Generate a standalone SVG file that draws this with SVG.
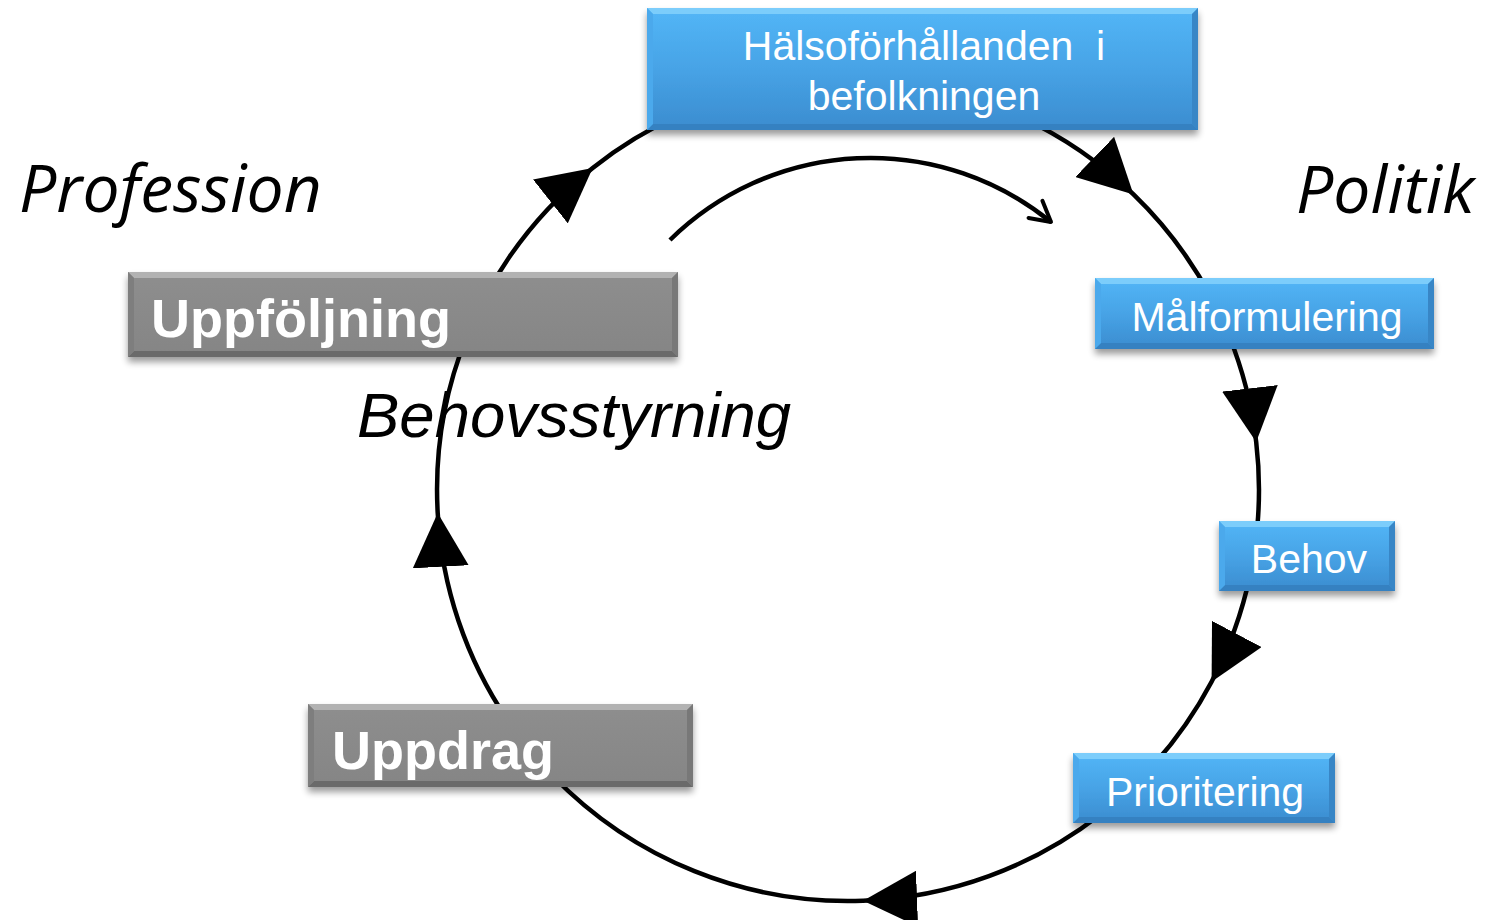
<svg xmlns="http://www.w3.org/2000/svg" width="1502" height="920" viewBox="0 0 1502 920">
  <defs>
    <linearGradient id="blueFill" x1="0" y1="0" x2="0" y2="1">
      <stop offset="0" stop-color="#53b6f7"/>
      <stop offset="0.5" stop-color="#47a3e6"/>
      <stop offset="1" stop-color="#3b8ccf"/>
    </linearGradient>
    <linearGradient id="grayFill" x1="0" y1="0" x2="0" y2="1">
      <stop offset="0" stop-color="#8e8e8e"/>
      <stop offset="1" stop-color="#858585"/>
    </linearGradient>
    <filter id="shadow" x="-10%" y="-20%" width="120%" height="150%">
      <feGaussianBlur in="SourceAlpha" stdDeviation="3.5"/>
      <feOffset dx="0" dy="5" result="off"/>
      <feComponentTransfer><feFuncA type="linear" slope="0.4"/></feComponentTransfer>
      <feMerge><feMergeNode/><feMergeNode in="SourceGraphic"/></feMerge>
    </filter>
    <marker id="tri" viewBox="0 0 54 56" refX="54" refY="28" markerWidth="54" markerHeight="56" markerUnits="userSpaceOnUse" orient="auto">
      <path d="M0,0 L54,28 L0,56 Z" fill="#000"/>
    </marker>
    <marker id="chevron" viewBox="-26 -15 30 30" refX="0" refY="0" markerWidth="30" markerHeight="30" markerUnits="userSpaceOnUse" orient="auto">
      <path d="M-20,-11 L0,0 L-20,11" fill="none" stroke="#000" stroke-width="4" stroke-linecap="round" stroke-linejoin="round"/>
    </marker>
  </defs>
  <style>
    .conn { fill: none; stroke: #000; stroke-width: 4.5; }
    .blue .base { fill: url(#blueFill); }
    .blue .bt { fill: #7ccdfb; }
    .blue .bb { fill: #3581c1; }
    .blue .bl { fill: #4ba9ec; }
    .blue .br { fill: #3886c6; }
    .gray .base { fill: url(#grayFill); }
    .gray .bt { fill: #b2b2b2; }
    .gray .bb { fill: #6a6a6a; }
    .gray .bl { fill: #7e7e7e; }
    .gray .br { fill: #787878; }
    .box { filter: url(#shadow); }
    .lbl { font-family: "Liberation Sans", Arial, sans-serif; fill: #fff; }
    .blue .lbl { font-size: 41px; text-anchor: middle; white-space: pre; }
    .gray .lbl { font-size: 54px; font-weight: bold; }
    .side { font-family: "Open Sans", "Noto Sans", sans-serif; font-style: italic; font-size: 66px; fill: #000; }
    .mid { font-family: "Liberation Sans", Arial, sans-serif; font-style: italic; font-size: 63.5px; fill: #000; }
  </style>

  <rect width="1502" height="920" fill="#fff"/>

  <!-- cycle connectors: arcs on a circle centred at (848,490), r=411, arrowhead at the middle vertex -->
  <g id="connectors">
    <path class="conn" marker-mid="url(#tri)" d="M1021.7,117.5 A411,411 0 0,1 1133.5,194.4 A411,411 0 0,1 1210.9,297"/>
    <path class="conn" marker-mid="url(#tri)" d="M1229.1,336 A411,411 0 0,1 1256.2,442 A411,411 0 0,1 1257.4,525.8"/>
    <path class="conn" marker-mid="url(#tri)" d="M1250,575.5 A411,411 0 0,1 1211.6,681.7 A411,411 0 0,1 1153.4,765"/>
    <path class="conn" marker-mid="url(#tri)" d="M1101,813.9 A411,411 0 0,1 863.1,900.7 A411,411 0 0,1 552.4,775.5"/>
    <path class="conn" marker-mid="url(#tri)" d="M507.3,719.8 A411,411 0 0,1 437.7,512.9 A411,411 0 0,1 466.9,336"/>
    <path class="conn" marker-mid="url(#tri)" d="M485.1,297 A411,411 0 0,1 592.7,167.9 A411,411 0 0,1 680.8,114.5"/>
    <!-- inner direction arc -->
    <path class="conn" stroke-width="4" marker-end="url(#chevron)" d="M670,240 A286,286 0 0,1 1051,222"/>
  </g>

  <!-- free labels -->
  <g id="labels">
    <text class="side" x="19" y="212">Profession</text>
    <text class="side" x="1296" y="213">Politik</text>
    <text class="mid" x="357" y="437">Behovsstyrning</text>
  </g>

  <g id="node-halsoforhallanden" class="blue">
    <g class="box">
      <rect class="base" x="647" y="8" width="551" height="122"/>
      <polygon class="bt" points="647,8 1198,8 1192,14 653,14"/>
      <polygon class="bb" points="647,130 1198,130 1192,124 653,124"/>
      <polygon class="bl" points="647,8 653,14 653,124 647,130"/>
      <polygon class="br" points="1198,8 1192,14 1192,124 1198,130"/>
    </g>
    <text class="lbl" x="924" y="60">Hälsoförhållanden  i</text>
    <text class="lbl" x="924" y="110">befolkningen</text>
  </g>

  <g id="node-malformulering" class="blue">
    <g class="box">
      <rect class="base" x="1095" y="278" width="339" height="71"/>
      <polygon class="bt" points="1095,278 1434,278 1428,284 1101,284"/>
      <polygon class="bb" points="1095,349 1434,349 1428,343 1101,343"/>
      <polygon class="bl" points="1095,278 1101,284 1101,343 1095,349"/>
      <polygon class="br" points="1434,278 1428,284 1428,343 1434,349"/>
    </g>
    <text class="lbl" x="1267" y="331">Målformulering</text>
  </g>

  <g id="node-behov" class="blue">
    <g class="box">
      <rect class="base" x="1219" y="521" width="176" height="70"/>
      <polygon class="bt" points="1219,521 1395,521 1389,527 1225,527"/>
      <polygon class="bb" points="1219,591 1395,591 1389,585 1225,585"/>
      <polygon class="bl" points="1219,521 1225,527 1225,585 1219,591"/>
      <polygon class="br" points="1395,521 1389,527 1389,585 1395,591"/>
    </g>
    <text class="lbl" x="1309" y="573">Behov</text>
  </g>

  <g id="node-prioritering" class="blue">
    <g class="box">
      <rect class="base" x="1073" y="753" width="262" height="70"/>
      <polygon class="bt" points="1073,753 1335,753 1329,759 1079,759"/>
      <polygon class="bb" points="1073,823 1335,823 1329,817 1079,817"/>
      <polygon class="bl" points="1073,753 1079,759 1079,817 1073,823"/>
      <polygon class="br" points="1335,753 1329,759 1329,817 1335,823"/>
    </g>
    <text class="lbl" x="1205" y="806">Prioritering</text>
  </g>

  <g id="node-uppdrag" class="gray">
    <g class="box">
      <rect class="base" x="308" y="704" width="385" height="83"/>
      <polygon class="bt" points="308,704 693,704 687,710 314,710"/>
      <polygon class="bb" points="308,787 693,787 687,781 314,781"/>
      <polygon class="bl" points="308,704 314,710 314,781 308,787"/>
      <polygon class="br" points="693,704 687,710 687,781 693,787"/>
    </g>
    <text class="lbl" x="332" y="769">Uppdrag</text>
  </g>

  <g id="node-uppfoljning" class="gray">
    <g class="box">
      <rect class="base" x="128" y="272" width="550" height="85"/>
      <polygon class="bt" points="128,272 678,272 672,278 134,278"/>
      <polygon class="bb" points="128,357 678,357 672,351 134,351"/>
      <polygon class="bl" points="128,272 134,278 134,351 128,357"/>
      <polygon class="br" points="678,272 672,278 672,351 678,357"/>
    </g>
    <text class="lbl" x="151" y="337">Uppföljning</text>
  </g>
</svg>
